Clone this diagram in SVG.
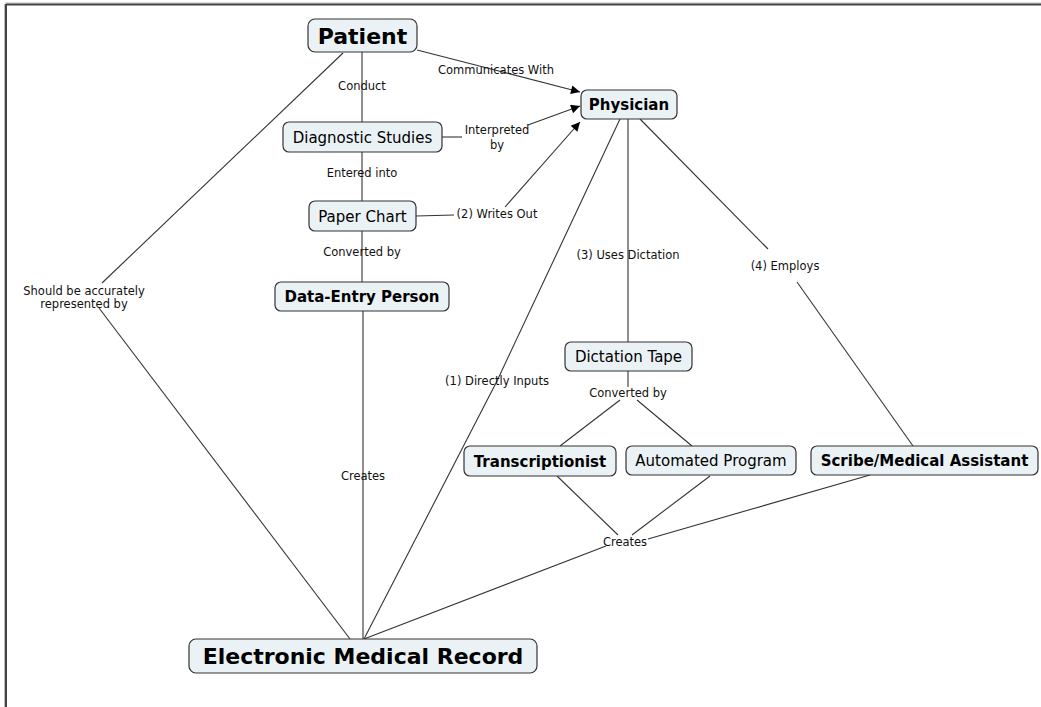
<svg xmlns="http://www.w3.org/2000/svg" width="1041" height="707" viewBox="0 0 1041 707">
<style>
  .node rect { fill: #ebf2f6; stroke: #333; stroke-width: 1.2; }
  .node text { font-family: "DejaVu Sans", Verdana, sans-serif; fill: #000; text-anchor: middle; }
  .b { font-weight: bold; font-size: 15px; }
  .r { font-size: 15px; }
  .big { font-weight: bold; font-size: 22px; }
  .conn line, .conn polyline { stroke: #333; stroke-width: 1.1; fill: none; }
  .lbl { font-family: "DejaVu Sans", Verdana, sans-serif; font-size: 11.5px; fill: #111; text-anchor: middle; }
</style>
<defs>
  <marker id="arr" viewBox="0 0 10 10" refX="10" refY="5" markerWidth="11" markerHeight="9" markerUnits="userSpaceOnUse" orient="auto">
    <path d="M0,0 L10,5 L0,10 z" fill="#000"/>
  </marker>
</defs>
<rect x="0" y="0" width="1041" height="707" fill="#fff"/>
<g id="frame">
  <line x1="5" y1="3" x2="1041" y2="3" stroke="#bbb" stroke-width="1"/>
  <line x1="6" y1="4.5" x2="1041" y2="4.5" stroke="#444" stroke-width="2"/>
  <line x1="4.5" y1="4" x2="4.5" y2="707" stroke="#bbb" stroke-width="1"/>
  <line x1="6" y1="4" x2="6" y2="707" stroke="#444" stroke-width="2"/>
</g>
<g id="connectors" class="conn">
  <line x1="362" y1="52" x2="362" y2="122"/>
  <line x1="362" y1="152" x2="362" y2="201"/>
  <line x1="362" y1="231" x2="362" y2="282"/>
  <line x1="363" y1="311" x2="363" y2="639"/>
  <line x1="417" y1="50" x2="495" y2="70"/>
  <line x1="495" y1="70" x2="580" y2="92" marker-end="url(#arr)"/>
  <line x1="442" y1="137" x2="462" y2="137"/>
  <line x1="528" y1="125" x2="580" y2="106" marker-end="url(#arr)"/>
  <line x1="416" y1="216" x2="454" y2="215"/>
  <line x1="505" y1="207" x2="580" y2="122" marker-end="url(#arr)"/>
  <line x1="343" y1="53" x2="102" y2="283"/>
  <line x1="99" y1="308" x2="350" y2="639"/>
  <line x1="620" y1="119" x2="497" y2="381"/>
  <line x1="497" y1="381" x2="364" y2="639"/>
  <line x1="628" y1="119" x2="628" y2="342"/>
  <line x1="640" y1="119" x2="768" y2="249"/>
  <line x1="797" y1="282" x2="913" y2="446"/>
  <line x1="628" y1="371" x2="628" y2="387"/>
  <line x1="620" y1="400" x2="560" y2="446"/>
  <line x1="637" y1="400" x2="692" y2="446"/>
  <line x1="557" y1="476" x2="618" y2="535"/>
  <line x1="710" y1="476" x2="632" y2="535"/>
  <line x1="870" y1="475" x2="648" y2="539"/>
  <line x1="606" y1="546" x2="364" y2="639"/>
</g>
<g id="labels">
  <text class="lbl" x="362" y="90">Conduct</text>
  <text class="lbl" x="496" y="74">Communicates With</text>
  <text class="lbl" x="497" y="134">Interpreted</text>
  <text class="lbl" x="497" y="149">by</text>
  <text class="lbl" x="362" y="177">Entered into</text>
  <text class="lbl" x="497" y="218">(2) Writes Out</text>
  <text class="lbl" x="362" y="256">Converted by</text>
  <text class="lbl" x="628" y="259">(3) Uses Dictation</text>
  <text class="lbl" x="785" y="270">(4) Employs</text>
  <text class="lbl" x="84" y="295">Should be accurately</text>
  <text class="lbl" x="84" y="308">represented by</text>
  <text class="lbl" x="497" y="385">(1) Directly Inputs</text>
  <text class="lbl" x="363" y="480">Creates</text>
  <text class="lbl" x="628" y="397">Converted by</text>
  <text class="lbl" x="625" y="546">Creates</text>
</g>
<g id="patient" class="node">
  <rect x="308" y="19" width="109" height="33" rx="7"/>
  <text class="big" x="362.5" y="44">Patient</text>
</g>
<g id="physician" class="node">
  <rect x="581" y="90" width="96" height="29" rx="6"/>
  <text class="b" x="629" y="110">Physician</text>
</g>
<g id="diagnostic-studies" class="node">
  <rect x="283" y="122" width="159" height="30" rx="6"/>
  <text class="r" x="362.5" y="142.5">Diagnostic Studies</text>
</g>
<g id="paper-chart" class="node">
  <rect x="309" y="201" width="107" height="30" rx="6"/>
  <text class="r" x="362.5" y="221.5">Paper Chart</text>
</g>
<g id="data-entry-person" class="node">
  <rect x="275" y="282" width="174" height="29" rx="6"/>
  <text class="b" x="362" y="302">Data-Entry Person</text>
</g>
<g id="dictation-tape" class="node">
  <rect x="565" y="342" width="127" height="29" rx="6"/>
  <text class="r" x="628.5" y="362">Dictation Tape</text>
</g>
<g id="transcriptionist" class="node">
  <rect x="464" y="446" width="152" height="30" rx="6"/>
  <text class="b" x="540" y="466.5">Transcriptionist</text>
</g>
<g id="automated-program" class="node">
  <rect x="626" y="446" width="170" height="29" rx="6"/>
  <text class="r" x="711" y="466">Automated Program</text>
</g>
<g id="scribe" class="node">
  <rect x="811" y="446" width="227" height="29" rx="6"/>
  <text class="b" x="924.5" y="466">Scribe/Medical Assistant</text>
</g>
<g id="emr" class="node">
  <rect x="189" y="639" width="348" height="34" rx="7"/>
  <text class="big" x="363" y="664">Electronic Medical Record</text>
</g>
</svg>
